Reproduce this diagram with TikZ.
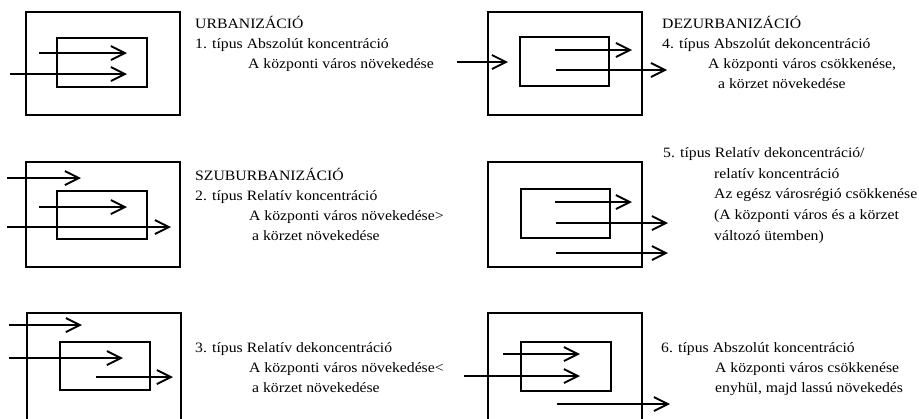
\documentclass[tikz,border=0pt]{standalone}
\usepackage{fontspec}
\setmainfont{Liberation Serif}[FakeStretch=1.1]
\usetikzlibrary{arrows.meta}
\begin{document}
\begin{tikzpicture}[x=1pt,y=-1pt,
  frame/.style={draw=black,line width=1.3pt},
  flow/.style={draw=black,line width=1.9pt,-{Straight Barb[length=14pt,width=14pt]}},
  lbl/.style={anchor=base west,inner sep=0pt,font=\fontsize{14.3}{20}\selectfont}]
\useasboundingbox (0,0) rectangle (919,418);
\clip (0,0) rectangle (919,418);

% ---------- 1. típus: urbanizáció ----------
\coordinate (o1a) at (26,12);  \coordinate (o1b) at (180,115);
\coordinate (i1a) at (57,38);  \coordinate (i1b) at (147,87);
\draw[frame] (o1a) rectangle (o1b);
\draw[frame] (i1a) rectangle (i1b);
\coordinate (a1s) at (39,53);  \coordinate (a1e) at (127,53);
\coordinate (b1s) at (10,74);  \coordinate (b1e) at (127,74);
\draw[flow] (a1s) -- (a1e);
\draw[flow] (b1s) -- (b1e);
\node[lbl] (t1a) at (195,28) {URBANIZÁCIÓ};
\node[lbl] (t1b) at (195,48) {1. típus Abszolút koncentráció};
\node[lbl] (t1c) at (248,68) {A központi város növekedése};

% ---------- 4. típus: dezurbanizáció ----------
\coordinate (o4a) at (488,12);  \coordinate (o4b) at (642,115);
\coordinate (i4a) at (520,37);  \coordinate (i4b) at (609,86);
\draw[frame] (o4a) rectangle (o4b);
\draw[frame] (i4a) rectangle (i4b);
\coordinate (a4s) at (457,62);  \coordinate (a4e) at (508,62);
\coordinate (b4s) at (555,50);  \coordinate (b4e) at (632,50);
\coordinate (c4s) at (556,70);  \coordinate (c4e) at (667,70);
\draw[flow] (a4s) -- (a4e);
\draw[flow] (b4s) -- (b4e);
\draw[flow] (c4s) -- (c4e);
\node[lbl] (t4a) at (662,28) {DEZURBANIZÁCIÓ};
\node[lbl] (t4b) at (662,48) {4. típus Abszolút dekoncentráció};
\node[lbl] (t4c) at (708,68) {A központi város csökkenése,};
\node[lbl] (t4d) at (718,88) {a körzet növekedése};

% ---------- 2. típus: szuburbanizáció ----------
\coordinate (o2a) at (26,162);  \coordinate (o2b) at (180,267);
\coordinate (i2a) at (57,191);  \coordinate (i2b) at (147,239);
\draw[frame] (o2a) rectangle (o2b);
\draw[frame] (i2a) rectangle (i2b);
\coordinate (a2s) at (7,178);   \coordinate (a2e) at (81,178);
\coordinate (b2s) at (39,207);  \coordinate (b2e) at (127,207);
\coordinate (c2s) at (7,227);   \coordinate (c2e) at (171,227);
\draw[flow] (a2s) -- (a2e);
\draw[flow] (b2s) -- (b2e);
\draw[flow] (c2s) -- (c2e);
\node[lbl] (t2a) at (195,180) {SZUBURBANIZÁCIÓ};
\node[lbl] (t2b) at (195,200) {2. típus Relatív koncentráció};
\node[lbl] (t2c) at (249,220) {A központi város növekedése>};
\node[lbl] (t2d) at (252,240) {a körzet növekedése};

% ---------- 5. típus ----------
\coordinate (o5a) at (488,162);  \coordinate (o5b) at (642,267);
\coordinate (i5a) at (521,189);  \coordinate (i5b) at (610,238);
\draw[frame] (o5a) rectangle (o5b);
\draw[frame] (i5a) rectangle (i5b);
\coordinate (a5s) at (555,202);  \coordinate (a5e) at (632,202);
\coordinate (b5s) at (556,223);  \coordinate (b5e) at (668,223);
\coordinate (c5s) at (556,253);  \coordinate (c5e) at (668,253);
\draw[flow] (a5s) -- (a5e);
\draw[flow] (b5s) -- (b5e);
\draw[flow] (c5s) -- (c5e);
\node[lbl] (t5a) at (663,157) {5. típus Relatív dekoncentráció/};
\node[lbl] (t5b) at (714,178) {relatív koncentráció};
\node[lbl] (t5c) at (714,198) {Az egész városrégió csökkenése};
\node[lbl] (t5d) at (714,219) {(A központi város és a körzet};
\node[lbl] (t5e) at (714,240) {változó ütemben)};

% ---------- 3. típus ----------
\coordinate (o3a) at (27,313);  \coordinate (o3b) at (181,430);
\coordinate (i3a) at (60,342);  \coordinate (i3b) at (150,390);
\draw[frame] (o3a) rectangle (o3b);
\draw[frame] (i3a) rectangle (i3b);
\coordinate (a3s) at (9,325);   \coordinate (a3e) at (82,325);
\coordinate (b3s) at (9,358);   \coordinate (b3e) at (123,358);
\coordinate (c3s) at (96,377);  \coordinate (c3e) at (173,377);
\draw[flow] (a3s) -- (a3e);
\draw[flow] (b3s) -- (b3e);
\draw[flow] (c3s) -- (c3e);
\node[lbl] (t3a) at (195,352) {3. típus Relatív dekoncentráció};
\node[lbl] (t3b) at (249,372) {A központi város növekedése<};
\node[lbl] (t3c) at (252,392) {a körzet növekedése};

% ---------- 6. típus ----------
\coordinate (o6a) at (488,313);  \coordinate (o6b) at (642,430);
\coordinate (i6a) at (521,342);  \coordinate (i6b) at (611,391);
\draw[frame] (o6a) rectangle (o6b);
\draw[frame] (i6a) rectangle (i6b);
\coordinate (a6s) at (503,354);  \coordinate (a6e) at (580,354);
\coordinate (b6s) at (464,376);  \coordinate (b6e) at (580,376);
\coordinate (c6s) at (557,404);  \coordinate (c6e) at (670,404);
\draw[flow] (a6s) -- (a6e);
\draw[flow] (b6s) -- (b6e);
\draw[flow] (c6s) -- (c6e);
\node[lbl] (t6a) at (661,352) {6. típus Abszolút koncentráció};
\node[lbl] (t6b) at (715,372) {A központi város csökkenése};
\node[lbl] (t6c) at (715,392) {enyhül, majd lassú növekedés};
\end{tikzpicture}
\end{document}
